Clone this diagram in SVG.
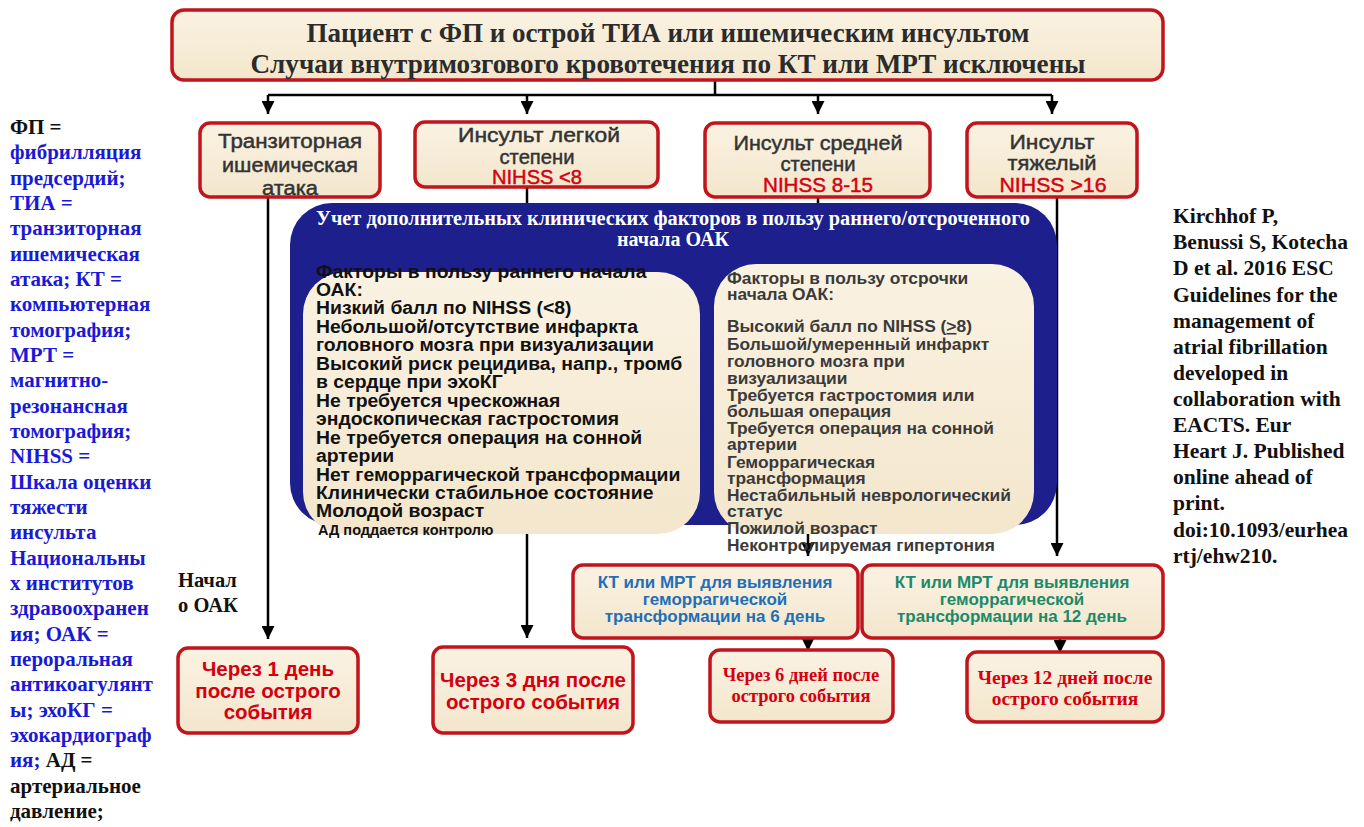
<svg xmlns="http://www.w3.org/2000/svg" width="1364" height="827" viewBox="0 0 1364 827">
<defs>
<linearGradient id="cream" x1="0" y1="0" x2="0" y2="1">
<stop offset="0" stop-color="#faf2e2"/><stop offset="1" stop-color="#f3e6cc"/>
</linearGradient>
<marker id="ah" viewBox="0 0 10 10" refX="10" refY="5" markerWidth="13" markerHeight="13" markerUnits="userSpaceOnUse" orient="auto">
<path d="M0,0 L10,5 L0,10 z" fill="#000"/>
</marker>
<style>
.box{fill:url(#cream);stroke:#c0151c;stroke-width:3.5}
.con{fill:none;stroke:#000;stroke-width:2.5}
.ttl{font-family:"Liberation Serif",serif;font-weight:bold;fill:#2b2b2b;text-anchor:middle}
.nar{font-family:"Liberation Sans",sans-serif;font-size:20px;fill:#333;stroke:#333;stroke-width:0.45;text-anchor:middle}
.red{fill:#d4000f;stroke:#d4000f}
.lf{font-family:"Liberation Sans",sans-serif;font-weight:bold;font-size:17.6px;fill:#111}
.rf{font-family:"Liberation Sans",sans-serif;font-weight:bold;font-size:15.8px;fill:#3a3a3a}
.rb{font-family:"Liberation Sans",sans-serif;font-weight:bold;fill:#d4000f;text-anchor:middle}
.sb{font-family:"Liberation Serif",serif;font-weight:bold;fill:#d4000f;text-anchor:middle}
.ct{font-family:"Liberation Sans",sans-serif;font-weight:bold;font-size:17px;text-anchor:middle}
.leg{font-family:"Liberation Serif",serif;font-weight:bold;font-size:21px;fill:#1a1ad6}
.blk{fill:#111}
.cit{font-family:"Liberation Serif",serif;font-weight:bold;font-size:21.5px;fill:#111}
</style>
</defs>
<rect width="1364" height="827" fill="#fff"/>

<g id="connectors">
<path class="con" d="M715,80 V95 M268,95 H1052"/>
<path class="con" d="M268,95 V114" marker-end="url(#ah)"/>
<path class="con" d="M527,95 V114" marker-end="url(#ah)"/>
<path class="con" d="M818,95 V114" marker-end="url(#ah)"/>
<path class="con" d="M1052,95 V114" marker-end="url(#ah)"/>
<path class="con" d="M268,197 V639" marker-end="url(#ah)"/>
<path class="con" d="M527,187 V638" marker-end="url(#ah)"/>
<path class="con" d="M818,197 V500 H808 V556" marker-end="url(#ah)"/>
<path class="con" d="M1057,197 V556" marker-end="url(#ah)"/>
<path class="con" d="M808,638 V651" marker-end="url(#ah)"/>
<path class="con" d="M1060,638 V653" marker-end="url(#ah)"/>
</g>

<g id="top">
<rect class="box" x="172" y="10" width="991" height="70" rx="12"/>
<text class="ttl" x="668" y="42" font-size="28" textLength="723" lengthAdjust="spacingAndGlyphs">Пациент с ФП и острой ТИА или ишемическим инсультом</text>
<text class="ttl" x="668" y="73" font-size="28" textLength="835" lengthAdjust="spacingAndGlyphs">Случаи внутримозгового кровотечения по КТ или МРТ исключены</text>
</g>

<g id="tia">
<rect class="box" x="200" y="123" width="180" height="74" rx="10"/>
<text class="nar"><tspan x="290" y="148" textLength="144" lengthAdjust="spacingAndGlyphs">Транзиторная</tspan><tspan x="290" y="172" textLength="136" lengthAdjust="spacingAndGlyphs">ишемическая</tspan><tspan x="290" y="195" textLength="56" lengthAdjust="spacingAndGlyphs">атака</tspan></text>
</g>
<g id="mild">
<rect class="box" x="415" y="122" width="243" height="65" rx="10"/>
<text class="nar"><tspan x="539" y="142" textLength="162" lengthAdjust="spacingAndGlyphs">Инсульт легкой</tspan><tspan x="537" y="164" textLength="75" lengthAdjust="spacingAndGlyphs">степени</tspan><tspan x="537" y="184" class="red" textLength="90" lengthAdjust="spacingAndGlyphs">NIHSS &lt;8</tspan></text>
</g>
<g id="moderate">
<rect class="box" x="705" y="123" width="225" height="74" rx="10"/>
<text class="nar"><tspan x="818" y="150" textLength="169" lengthAdjust="spacingAndGlyphs">Инсульт средней</tspan><tspan x="818" y="171" textLength="75" lengthAdjust="spacingAndGlyphs">степени</tspan><tspan x="818" y="192" class="red" textLength="110" lengthAdjust="spacingAndGlyphs">NIHSS 8-15</tspan></text>
</g>
<g id="severe">
<rect class="box" x="967" y="123" width="170" height="74" rx="10"/>
<text class="nar"><tspan x="1052" y="149" textLength="85" lengthAdjust="spacingAndGlyphs">Инсульт</tspan><tspan x="1052" y="170" textLength="89" lengthAdjust="spacingAndGlyphs">тяжелый</tspan><tspan x="1053" y="192" class="red" textLength="107" lengthAdjust="spacingAndGlyphs">NIHSS &gt;16</tspan></text>
</g>

<g id="factors">
<rect x="290" y="203" width="767" height="322" rx="42" fill="#1c1f8c"/>
<text class="ttl" x="673" y="225" font-size="20" style="fill:#fff" textLength="714" lengthAdjust="spacingAndGlyphs">Учет дополнительных клинических факторов в пользу раннего/отсроченного</text>
<text class="ttl" x="673" y="246" font-size="20" style="fill:#fff">начала ОАК</text>
<rect x="303" y="272" width="397" height="262" rx="42" fill="url(#cream)"/>
<rect x="714" y="264" width="320" height="270" rx="42" fill="url(#cream)"/>
<text class="lf" transform="scale(1.1,1)">
<tspan x="287.3" y="278">Факторы в пользу раннего начала</tspan>
<tspan x="287.3" y="296">ОАК:</tspan>
<tspan x="287.3" y="314">Низкий балл по NIHSS (&lt;8)</tspan>
<tspan x="287.3" y="333">Небольшой/отсутствие инфаркта</tspan>
<tspan x="287.3" y="351">головного мозга при визуализации</tspan>
<tspan x="287.3" y="370">Высокий риск рецидива, напр., тромб</tspan>
<tspan x="287.3" y="388">в сердце при эхоКГ</tspan>
<tspan x="287.3" y="407">Не требуется чрескожная</tspan>
<tspan x="287.3" y="425">эндоскопическая гастростомия</tspan>
<tspan x="287.3" y="444">Не требуется операция на сонной</tspan>
<tspan x="287.3" y="462">артерии</tspan>
<tspan x="287.3" y="481">Нет геморрагической трансформации</tspan>
<tspan x="287.3" y="499">Клинически стабильное состояние</tspan>
<tspan x="287.3" y="517">Молодой возраст</tspan>
</text>
<text class="lf" x="318" y="535" style="font-size:14.5px">АД поддается контролю</text>
<text class="rf" transform="scale(1.1,1)">
<tspan x="660.9" y="284">Факторы в пользу отсрочки</tspan>
<tspan x="660.9" y="300">начала ОАК:</tspan>
<tspan x="660.9" y="332">Высокий балл по NIHSS (<tspan text-decoration="underline">&gt;</tspan>8)</tspan>
<tspan x="660.9" y="350">Большой/умеренный инфаркт</tspan>
<tspan x="660.9" y="367">головного мозга при</tspan>
<tspan x="660.9" y="384">визуализации</tspan>
<tspan x="660.9" y="401">Требуется гастростомия или</tspan>
<tspan x="660.9" y="417">большая операция</tspan>
<tspan x="660.9" y="434">Требуется операция на сонной</tspan>
<tspan x="660.9" y="450">артерии</tspan>
<tspan x="660.9" y="468">Геморрагическая</tspan>
<tspan x="660.9" y="484">трансформация</tspan>
<tspan x="660.9" y="501">Нестабильный неврологический</tspan>
<tspan x="660.9" y="517">статус</tspan>
<tspan x="660.9" y="534">Пожилой возраст</tspan>
<tspan x="660.9" y="551">Неконтролируемая гипертония</tspan>
</text>
</g>

<g id="start-label">
<text class="cit" style="font-size:20.5px"><tspan x="178" y="587">Начал</tspan><tspan x="178" y="612">о ОАК</tspan></text>
</g>

<g id="day1">
<rect class="box" x="178" y="648" width="180" height="85" rx="10"/>
<text class="rb" font-size="20.5"><tspan x="268" y="676">Через 1 день</tspan><tspan x="268" y="698">после острого</tspan><tspan x="268" y="719">события</tspan></text>
</g>
<g id="day3">
<rect class="box" x="433" y="647" width="200" height="86" rx="10"/>
<text class="rb" font-size="20.5"><tspan x="533" y="687">Через 3 дня после</tspan><tspan x="533" y="709">острого события</tspan></text>
</g>
<g id="ct6">
<rect class="box" x="573" y="565" width="285" height="73" rx="10"/>
<text class="ct" fill="#1f6fb8"><tspan x="715" y="588">КТ или МРТ для выявления</tspan><tspan x="715" y="605">геморрагической</tspan><tspan x="715" y="622">трансформации на 6 день</tspan></text>
</g>
<g id="ct12">
<rect class="box" x="862" y="565" width="301" height="73" rx="10"/>
<text class="ct" fill="#1b8a6b"><tspan x="1012" y="588">КТ или МРТ для выявления</tspan><tspan x="1012" y="605">геморрагической</tspan><tspan x="1012" y="622">трансформации на 12 день</tspan></text>
</g>
<g id="day6">
<rect class="box" x="710" y="650" width="183" height="72" rx="10"/>
<text class="sb" font-size="18.5"><tspan x="801" y="681">Через 6 дней после</tspan><tspan x="801" y="702">острого события</tspan></text>
</g>
<g id="day12">
<rect class="box" x="967" y="652" width="196" height="70" rx="10"/>
<text class="sb" font-size="19.5"><tspan x="1065" y="684">Через 12 дней после</tspan><tspan x="1065" y="705">острого события</tspan></text>
</g>

<g id="legend">
<text class="leg">
<tspan x="10" y="134" class="blk">ФП =</tspan>
<tspan x="10" y="159">фибрилляция</tspan>
<tspan x="10" y="185">предсердий;</tspan>
<tspan x="10" y="210">ТИА =</tspan>
<tspan x="10" y="235">транзиторная</tspan>
<tspan x="10" y="261">ишемическая</tspan>
<tspan x="10" y="286">атака; КТ =</tspan>
<tspan x="10" y="311">компьютерная</tspan>
<tspan x="10" y="337">томография;</tspan>
<tspan x="10" y="362">МРТ =</tspan>
<tspan x="10" y="387">магнитно-</tspan>
<tspan x="10" y="413">резонансная</tspan>
<tspan x="10" y="438">томография;</tspan>
<tspan x="10" y="463">NIHSS =</tspan>
<tspan x="10" y="489">Шкала оценки</tspan>
<tspan x="10" y="514">тяжести</tspan>
<tspan x="10" y="539">инсульта</tspan>
<tspan x="10" y="565">Национальны</tspan>
<tspan x="10" y="590">х институтов</tspan>
<tspan x="10" y="615">здравоохранен</tspan>
<tspan x="10" y="641">ия; ОАК =</tspan>
<tspan x="10" y="666">пероральная</tspan>
<tspan x="10" y="691">антикоагулянт</tspan>
<tspan x="10" y="717">ы; эхоКГ =</tspan>
<tspan x="10" y="742">эхокардиограф</tspan>
<tspan x="10" y="767">ия; <tspan class="blk">АД =</tspan></tspan>
<tspan x="10" y="793" class="blk">артериальное</tspan>
<tspan x="10" y="818" class="blk">давление;</tspan>
</text>
</g>

<g id="citation">
<text class="cit">
<tspan x="1173" y="223">Kirchhof P,</tspan>
<tspan x="1173" y="249">Benussi S, Kotecha</tspan>
<tspan x="1173" y="275">D et al. 2016 ESC</tspan>
<tspan x="1173" y="302">Guidelines for the</tspan>
<tspan x="1173" y="328">management of</tspan>
<tspan x="1173" y="354">atrial fibrillation</tspan>
<tspan x="1173" y="380">developed in</tspan>
<tspan x="1173" y="406">collaboration with</tspan>
<tspan x="1173" y="432">EACTS. Eur</tspan>
<tspan x="1173" y="458">Heart J. Published</tspan>
<tspan x="1173" y="484">online ahead of</tspan>
<tspan x="1173" y="510">print.</tspan>
<tspan x="1173" y="537">doi:10.1093/eurhea</tspan>
<tspan x="1173" y="563">rtj/ehw210.</tspan>
</text>
</g>
</svg>
